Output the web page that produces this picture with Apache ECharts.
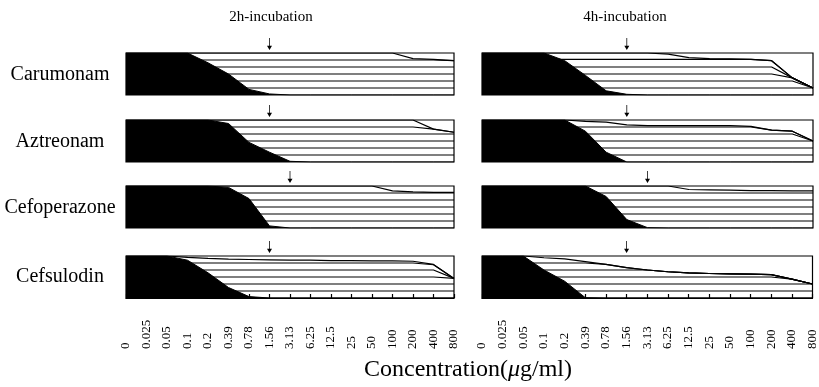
<!DOCTYPE html>
<html><head><meta charset="utf-8">
<script src="https://cdn.jsdelivr.net/npm/echarts@6/dist/echarts.min.js"></script>
<style>html,body{margin:0;padding:0;background:#fff}#c{width:819px;height:387px}</style>
</head><body><div id="c"></div>
<script>
const concentrations = ['0','0.025','0.05','0.1','0.2','0.39','0.78','1.56','3.13','6.25','12.5','25','50','100','200','400','800'];
const drugs = ['Carumonam','Aztreonam','Cefoperazone','Cefsulodin'];
const incubations = ['2h-incubation','4h-incubation'];
const micArrow2h = ['1.56','1.56','3.13','1.56'];
const micArrow4h = ['1.56','1.56','3.13','1.56'];
const axisTitle = 'Concentration';
const axisUnit = 'g/ml';

// black region height (scale 0..6) per concentration
const blackCarumonam2h = [6,6,6,6,4.6,3.0,0.8,0.15,0,0,0,0,0,0,0,0,0];
const blackCarumonam4h = [6,6,6,6,4.9,2.8,0.6,0.1,0,0,0,0,0,0,0,0,0];
const blackAztreonam2h = [6,6,6,6,6,5.5,2.8,1.4,0.1,0,0,0,0,0,0,0,0];
const blackAztreonam4h = [6,6,6,6,6,4.4,1.4,0,0,0,0,0,0,0,0,0,0];
const blackCefoperazone2h = [6,6,6,6,6,5.8,4.2,0.3,0,0,0,0,0,0,0,0,0];
const blackCefoperazone4h = [6,6,6,6,6,6,4.5,1.2,0.05,0,0,0,0,0,0,0,0];
const blackCefsulodin2h = [6,6,6,5.4,3.6,1.5,0.2,0,0,0,0,0,0,0,0,0,0];
const blackCefsulodin4h = [6,6,6,4.0,2.4,0.05,0,0,0,0,0,0,0,0,0,0,0];

// boundary lines (scale 0..6) per concentration
const linesCarumonam2h = [
  [1,1,1,1,1,1,1,1,1,1,1,1,1,1,1,1,1],
  [2,2,2,2,2,2,2,2,2,2,2,2,2,2,2,2,2],
  [3,3,3,3,3,3,3,3,3,3,3,3,3,3,3,3,3],
  [4,4,4,4,4,4,4,4,4,4,4,4,4,4,4,4,4],
  [5,5,5,5,5,5,5,5,5,5,5,5,5,5,5,5,4.9],
  [6,6,6,6,6,6,6,6,6,6,6,6,6,6,5.2,5.1,4.9]
];
const linesCarumonam4h = [
  [1,1,1,1,1,1,1,1,1,1,1,1,1,1,1,1,1],
  [2,2,2,2,2,2,2,2,2,2,2,2,2,2,2,2,1],
  [3,3,3,3,3,3,3,3,3,3,3,3,3,3,3,2.45,1],
  [4,4,4,4,4,4,4,4,4,4,4,4,4,4,4,2.45,1],
  [5.1,5.1,5.1,5.1,5.1,5.1,5.1,5.1,5.1,5.1,5.1,5.1,5.1,5.1,4.9,2.45,1],
  [6,6,6,6,6,6,6,6,6,5.85,5.35,5.2,5.15,5.1,4.9,2.45,1]
];
const linesAztreonam2h = [
  [1,1,1,1,1,1,1,1,1,1,1,1,1,1,1,1,1],
  [2,2,2,2,2,2,2,2,2,2,2,2,2,2,2,2,2],
  [3,3,3,3,3,3,3,3,3,3,3,3,3,3,3,3,3],
  [4,4,4,4,4,4,4,4,4,4,4,4,4,4,4,4,4],
  [5,5,5,5,5,5,5,5,5,5,5,5,5,5,5,4.7,4.25],
  [6,6,6,6,6,6,6,6,6,6,6,6,6,6,6,4.7,4.25]
];
const linesAztreonam4h = [
  [1,1,1,1,1,1,1,1,1,1,1,1,1,1,1,1,1],
  [2,2,2,2,2,2,2,2,2,2,2,2,2,2,2,2,2],
  [3,3,3,3,3,3,3,3,3,3,3,3,3,3,3,3,3],
  [4,4,4,4,4,4,4,4,4,4,4,4,4,4,4,4,3],
  [5,5,5,5,5,5,5,5,5,5,5,5,5,5,4.55,4.4,3],
  [6,6,6,6,6,5.8,5.7,5.3,5.2,5.2,5.2,5.2,5.2,5.1,4.55,4.4,3]
];
const linesCefoperazone2h = [
  [1,1,1,1,1,1,1,1,1,1,1,1,1,1,1,1,1],
  [2,2,2,2,2,2,2,2,2,2,2,2,2,2,2,2,2],
  [3,3,3,3,3,3,3,3,3,3,3,3,3,3,3,3,3],
  [4,4,4,4,4,4,4,4,4,4,4,4,4,4,4,4,4],
  [5,5,5,5,5,5,5,5,5,5,5,5,5,5,5,5,5],
  [6,6,6,6,6,6,6,6,6,6,6,6,6,5.3,5.15,5.1,5.1]
];
const linesCefoperazone4h = [
  [1,1,1,1,1,1,1,1,1,1,1,1,1,1,1,1,1],
  [2,2,2,2,2,2,2,2,2,2,2,2,2,2,2,2,2],
  [3,3,3,3,3,3,3,3,3,3,3,3,3,3,3,3,3],
  [4,4,4,4,4,4,4,4,4,4,4,4,4,4,4,4,4],
  [5,5,5,5,5,5,5,5,5,5,5,5,5,5,5,5,5],
  [6,6,6,6,6,6,6,6,6,6,5.5,5.45,5.4,5.35,5.35,5.3,5.3]
];
const linesCefsulodin2h = [
  [1,1,1,1,1,1,1,1,1,1,1,1,1,1,1,1,1],
  [2,2,2,2,2,2,2,2,2,2,2,2,2,2,2,2,2],
  [3,3,3,3,3,3,3,3,3,3,3,3,3,3,3,3,2.8],
  [4,4,4,4,4,4,4,4,4,4,4,4,4,4,4,4,2.8],
  [5,5,5,5,5,5,5,5,5,5,5,5,5,5,5,4.75,2.8],
  [6,6,6,5.8,5.65,5.55,5.5,5.45,5.4,5.4,5.35,5.35,5.3,5.3,5.25,4.8,2.8]
];
const linesCefsulodin4h = [
  [1,1,1,1,1,1,1,1,1,1,1,1,1,1,1,1,1],
  [2,2,2,2,2,2,2,2,2,2,2,2,2,2,2,2,2],
  [3,3,3,3,3,3,3,3,3,3,3,3,3,3,3,2.7,2],
  [4,4,4,4,4,4,4,4,4,3.75,3.6,3.5,3.45,3.4,3.35,2.7,2],
  [5,5,5,5,5,5,4.8,4.35,4.0,3.75,3.6,3.5,3.45,3.4,3.35,2.7,2],
  [6,6,6,5.75,5.6,5.2,4.8,4.35,4.0,3.75,3.6,3.5,3.45,3.4,3.35,2.7,2]
];

const blackSets = [
  [blackCarumonam2h, blackCarumonam4h],
  [blackAztreonam2h, blackAztreonam4h],
  [blackCefoperazone2h, blackCefoperazone4h],
  [blackCefsulodin2h, blackCefsulodin4h]
];
const lineSets = [
  [linesCarumonam2h, linesCarumonam4h],
  [linesAztreonam2h, linesAztreonam4h],
  [linesCefoperazone2h, linesCefoperazone4h],
  [linesCefsulodin2h, linesCefsulodin4h]
];
const micSets = [micArrow2h, micArrow4h];

const SERIF = "'Liberation Serif','DejaVu Serif',serif";
const rowTops = [53, 120, 186, 256];
const colLeft = [126, 482];
const colWidth = [328, 331];
const panelH = 42;

const grids = [], xAxes = [], yAxes = [], series = [];
let gi = 0;
for (let r = 0; r < 4; r++) {
  for (let c = 0; c < 2; c++) {
    grids.push({left: colLeft[c], top: rowTops[r], width: colWidth[c], height: panelH,
      show: true, borderColor: '#000', borderWidth: 1.2, backgroundColor: 'transparent'});
    const isBottom = r === 3;
    xAxes.push({
      gridIndex: gi, type: 'category', data: concentrations, boundaryGap: false,
      show: isBottom, offset: 11,
      axisLine: {show: true, lineStyle: {color: '#000', width: 1.2}},
      axisTick: {show: true, inside: true, length: 4, interval: 0, lineStyle: {color: '#000', width: 1.2}},
      axisLabel: {show: true, interval: 0, rotate: 90, align: 'left', verticalAlign: 'middle', margin: 40,
        fontFamily: SERIF, fontSize: 13, color: '#000'},
      splitLine: {show: false}
    });
    yAxes.push({gridIndex: gi, type: 'value', min: 0, max: 6, show: false, splitLine: {show: false}});
    const lines = lineSets[r][c];
    lines.forEach(function (ld) {
      series.push({type: 'line', xAxisIndex: gi, yAxisIndex: gi, data: ld, symbol: 'none', silent: true,
        lineStyle: {color: '#000', width: 1.2}, z: 2, animation: false});
    });
    series.push({type: 'line', xAxisIndex: gi, yAxisIndex: gi, data: blackSets[r][c], symbol: 'none', silent: true,
      lineStyle: {color: '#000', width: 1}, areaStyle: {color: '#000', opacity: 1}, z: 3, animation: false,
      markPoint: {silent: true, animation: false, label: {show: false},
        data: [{coord: [micSets[c][r], 6], symbol: 'path://M3.4,0 L4.6,0 L4.6,9 L8,9 L4,14 L0,9 L3.4,9 Z',
          symbolSize: [5, 12], symbolOffset: [0, -9], itemStyle: {color: '#000'}}]}});
    gi++;
  }
}

const graphics = [];
const titleX = [271, 625];
incubations.forEach(function (t, i) {
  graphics.push({type: 'text', x: titleX[i], y: 17, style: {text: t, font: '15px ' + SERIF, fill: '#000', align: 'center', verticalAlign: 'middle'}});
});
const labelY = [75, 142, 208, 277];
drugs.forEach(function (d, i) {
  graphics.push({type: 'text', x: 60, y: labelY[i], style: {text: d, font: '20px ' + SERIF, fill: '#000', align: 'center', verticalAlign: 'middle'}});
});
graphics.push({type: 'text', x: 468, y: 370, style: {
  rich: {n: {font: '24px ' + SERIF, fill: '#000'}, m: {font: 'italic 24px ' + SERIF, fill: '#000'}},
  text: '{n|' + axisTitle + '(}{m|\u03bc}{n|' + axisUnit + ')}', align: 'center', verticalAlign: 'middle'}});

const chart = echarts.init(document.getElementById('c'), null, {renderer: 'canvas'});
chart.setOption({animation: false, grid: grids, xAxis: xAxes, yAxis: yAxes, series: series, graphic: graphics});
</script></body></html>
